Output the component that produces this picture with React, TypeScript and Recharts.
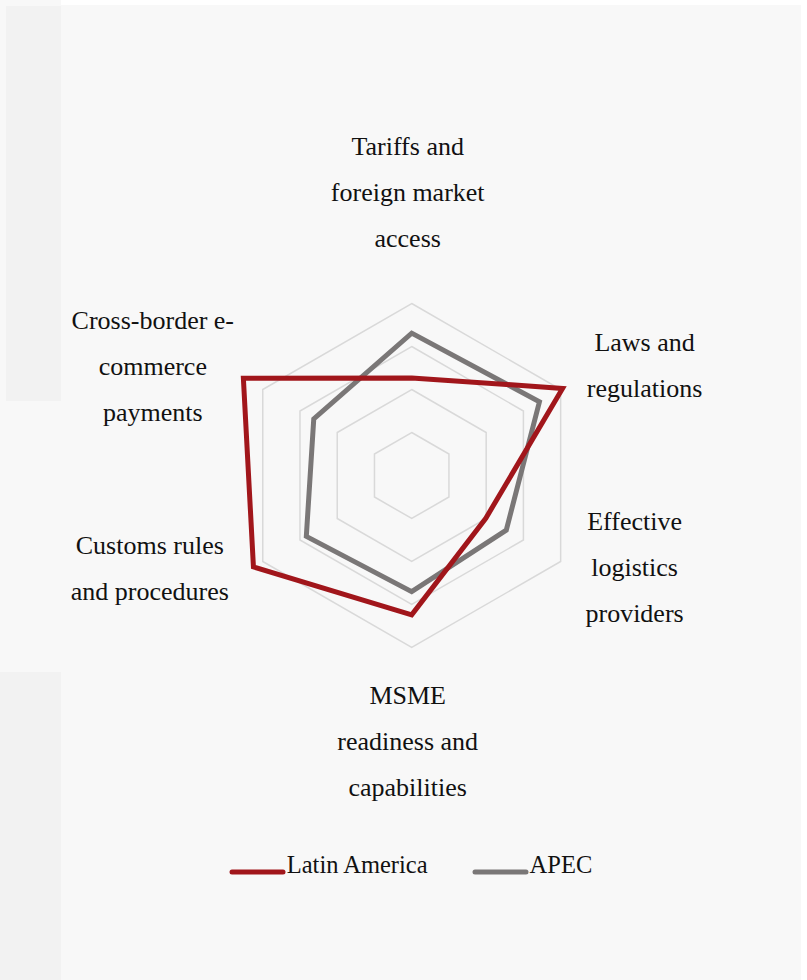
import { Legend, PolarAngleAxis, PolarGrid, PolarRadiusAxis, Radar, RadarChart } from 'recharts';

const CATEGORIES = [
  'Tariffs and\nforeign market\naccess',
  'Laws and\nregulations',
  'Effective\nlogistics\nproviders',
  'MSME\nreadiness and\ncapabilities',
  'Customs rules\nand procedures',
  'Cross-border e-\ncommerce\npayments',
];
const LATIN_AMERICA = [2.27, 4.05, 1.99, 3.24, 4.25, 4.52];
const APEC = [3.31, 3.43, 2.54, 2.7, 2.83, 2.63];

const SERIES = [
  { key: 'latam', name: 'Latin America', color: '#a1161b' },
  { key: 'apec', name: 'APEC', color: '#7a7777' },
];

const data = CATEGORIES.map((c, i) => ({ axis: c, latam: LATIN_AMERICA[i], apec: APEC[i] }));

const FONT = '"Liberation Serif", "DejaVu Serif", serif';

// label block centre relative to the tick anchor, per axis
const LABEL_SHIFT: [number, number][] = [
  [-4, -103.5],
  [77, -20],
  [67, 1.5],
  [-4, 85.5],
  [-106, 2.5],
  [-103, -19.5],
];

interface TickProps {
  x?: number;
  y?: number;
  index?: number;
  payload?: { value: string; index?: number };
}

function AxisLabel(props: TickProps) {
  const { x, y, payload } = props;
  if (x == null || y == null || !payload) return null;
  const idx = payload.index ?? props.index ?? 0;
  const [dx, dy] = LABEL_SHIFT[idx] ?? [0, 0];
  const lines = String(payload.value).split('\n');
  const mid = (lines.length - 1) / 2;
  return (
    <g>
      {lines.map((l, i) => (
        <text
          key={i}
          x={x + dx}
          y={y + dy + (i - mid) * 46}
          textAnchor="middle"
          dominantBaseline="central"
          fill="#111"
          fontSize={26}
          fontFamily={FONT}
        >
          {l}
        </text>
      ))}
    </g>
  );
}

function LegendBox() {
  return (
    <div style={{ display: 'flex', justifyContent: 'center', alignItems: 'flex-end', fontFamily: FONT, paddingLeft: 14 }}>
      {SERIES.map((s, i) => (
        <div key={s.key} style={{ display: 'flex', alignItems: 'flex-end', marginLeft: i ? 44 : 0 }}>
          <svg width={57} height={10} style={{ marginRight: 1 }}>
            <line x1={3} y1={5} x2={54} y2={5} stroke={s.color} strokeWidth={5} strokeLinecap="round" />
          </svg>
          <span style={{ fontSize: 24.5, color: '#111', lineHeight: '24px' }}>{s.name}</span>
        </div>
      ))}
    </div>
  );
}

export default function App() {
  return (
    <div style={{ position: 'absolute', left: 0, top: 0, width: 807, height: 980, background: '#fff', overflow: 'hidden' }}>
      <div style={{ position: 'absolute', left: 0, top: 0, width: 61, height: 980, background: '#f8f8f8' }} />
      <div style={{ position: 'absolute', left: 5, top: 5, width: 796, height: 975, background: '#f8f8f8' }} />
      <div style={{ position: 'absolute', left: 6, top: 6, width: 55, height: 395, background: '#f2f2f2' }} />
      <div style={{ position: 'absolute', left: 0, top: 672, width: 61, height: 308, background: '#f2f2f2' }} />
      <div style={{ position: 'absolute', left: 0, top: 0 }}>
        <RadarChart
          width={807}
          height={980}
          data={data}
          cx={411.7}
          cy={475.5}
          outerRadius={172}
          margin={{ top: 0, right: 0, bottom: 0, left: 0 }}
        >
          <PolarGrid gridType="polygon" radialLines={false} stroke="#d9d9d9" strokeWidth={1.5} />
          <PolarAngleAxis dataKey="axis" tick={<AxisLabel />} tickLine={false} axisLine={false} />
          <PolarRadiusAxis domain={[0, 4]} tickCount={5} allowDataOverflow tick={false} axisLine={false} />
          <Radar
            dataKey="apec"
            name="APEC"
            stroke="#7a7777"
            strokeWidth={5}
            fill="none"
            fillOpacity={0}
            dot={false}
            isAnimationActive={false}
          />
          <Radar
            dataKey="latam"
            name="Latin America"
            stroke="#a1161b"
            strokeWidth={5}
            fill="none"
            fillOpacity={0}
            dot={false}
            isAnimationActive={false}
          />
          <Legend
            verticalAlign="bottom"
            content={<LegendBox />}
            wrapperStyle={{ position: 'absolute', top: 853, left: 0, width: 807 }}
          />
        </RadarChart>
      </div>
    </div>
  );
}
